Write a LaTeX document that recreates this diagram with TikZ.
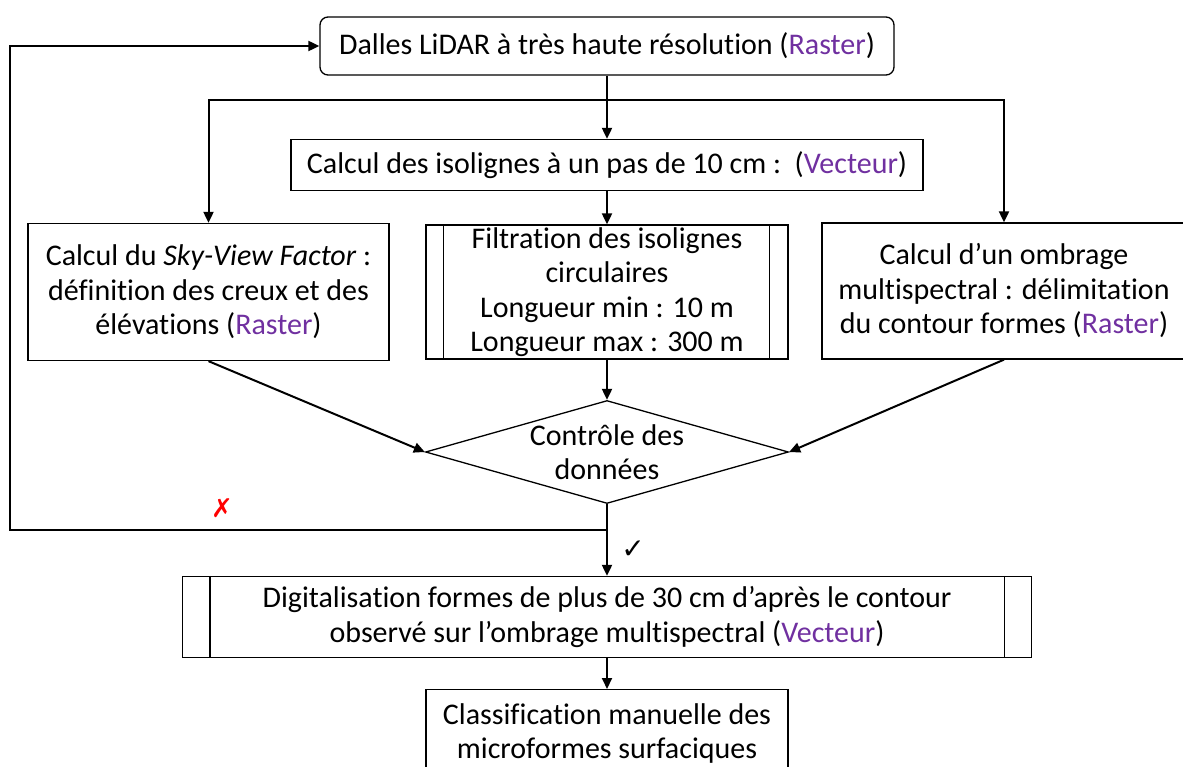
\documentclass[tikz,border=0pt]{standalone}
\usepackage{fontspec}
\setmainfont{Carlito}[Ligatures=NoCommon]
\newfontfamily\symfont{DejaVu Sans}
\usetikzlibrary{arrows.meta,shapes.geometric}
\definecolor{rasterV}{RGB}{112,48,160}

\begin{document}
\begin{tikzpicture}[x=1pt, y=-1pt, font=\fontsize{30}{34.5}\selectfont,
  >={Triangle[length=11pt,width=10pt]},
  box/.style={draw, line width=1.3pt, inner sep=0pt, align=center},
  link/.style={line width=2pt},
  sub/.style={line width=1.3pt}]
  \useasboundingbox (0,0) rectangle (1183,767);
  % source tiles
  \node[box, rounded corners=8pt, minimum width=574pt, minimum height=58pt] (lidar) at (607,46)
    {Dalles LiDAR à très haute résolution (\textcolor{rasterV}{Raster})};
  \node[box, minimum width=632pt, minimum height=51pt] (iso) at (607,165)
    {Calcul des isolignes à un pas de 10 cm :~~(\textcolor{rasterV}{Vecteur})};
  % three processing branches
  \node[box, minimum width=361pt, minimum height=137pt] (svf) at (208.5,292)
    {Calcul du \textit{Sky-View Factor} :\\ définition des creux et des\\ élévations (\textcolor{rasterV}{Raster})};
  \node[box, minimum width=362pt, minimum height=134pt] (filt) at (607,292)
    {Filtration des isolignes\\ circulaires\\ Longueur min : 10 m\\ Longueur max : 300 m};
  \draw[sub] ([xshift=18pt]filt.north west) -- ([xshift=18pt]filt.south west);
  \draw[sub] ([xshift=-19pt]filt.north east) -- ([xshift=-19pt]filt.south east);
  \node[box, minimum width=364pt, minimum height=136pt] (ombr) at (1004,291)
    {Calcul d’un ombrage\\ multispectral : délimitation\\ du contour formes (\textcolor{rasterV}{Raster})};
  % check
  \node[box, shape=diamond, aspect=3.52, minimum width=363pt, minimum height=103pt] (ctrl) at (607,452)
    {Contrôle des\\ données};
  % output
  \node[box, minimum width=849pt, minimum height=81pt] (digit) at (607,617)
    {Digitalisation formes de plus de 30 cm d’après le contour\\ observé sur l’ombrage multispectral (\textcolor{rasterV}{Vecteur})};
  \draw[sub] ([xshift=28pt]digit.north west) -- ([xshift=28pt]digit.south west);
  \draw[sub] ([xshift=-28pt]digit.north east) -- ([xshift=-28pt]digit.south east);
  \node[box, minimum width=362pt, anchor=north, inner ysep=14pt] (classif) at (607,689)
    {Classification manuelle des\\ microformes surfaciques\\[12pt]};
  % connectors
  \coordinate (split) at (607,100);
  \coordinate (back) at (607,530);
  \coordinate (loop) at (10,530);
  \draw[link] (lidar.south) -- (split);
  \draw[link,->] (split) -- (iso);
  \draw[link,->] (split) -| (svf.north);
  \draw[link,->] (split) -| (ombr.north);
  \draw[link,->] (iso) -- (filt);
  \draw[link,->] (filt) -- (ctrl);
  \draw[link,->] (svf.south) -- (ctrl.west);
  \draw[link,->] (ombr.south) -- (ctrl.east);
  \draw[link,->] (ctrl.south) -- (digit.north);
  \draw[link,->] (back) -- (loop) |- (lidar.west);
  \draw[link,->] (digit) -- (classif);
  \node[text=red, font=\symfont\fontsize{26}{28}\selectfont] (no) at (222,508) {✗};
  \node[font=\symfont\fontsize{28}{30}\selectfont] (yes) at (633,550) {✓};
\end{tikzpicture}
\end{document}
